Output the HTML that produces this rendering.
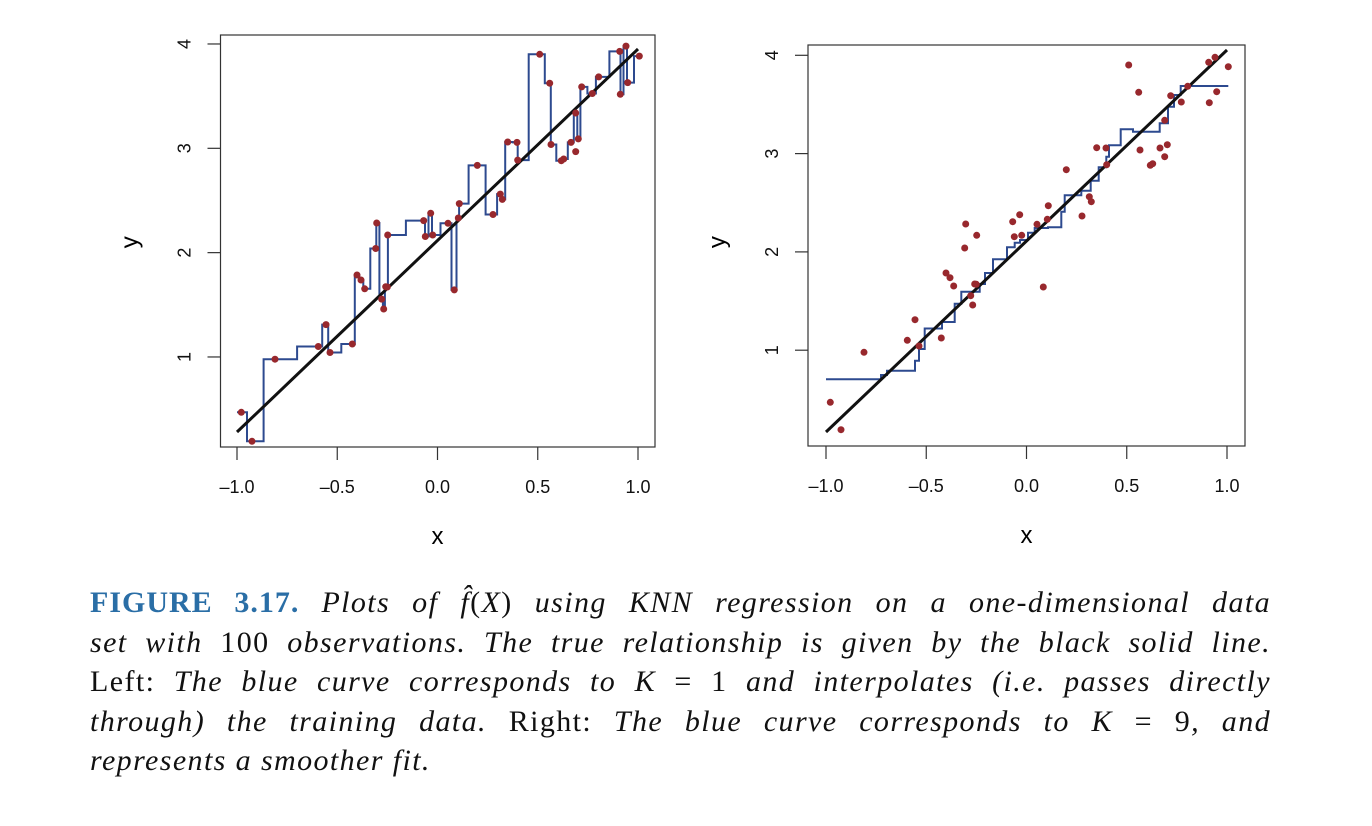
<!DOCTYPE html>
<html><head><meta charset="utf-8"><style>
body{margin:0;background:#fff;width:1372px;height:826px;overflow:hidden;position:relative}
svg{position:absolute;left:0;top:0}
.cap{position:absolute;left:90px;width:1181px;top:583px;font-family:"Liberation Serif",serif;font-size:30px;line-height:39.5px;font-style:italic;color:#111;letter-spacing:1.4px}
.cap div{text-align:justify;text-align-last:justify;white-space:nowrap}
.cap div.last{text-align-last:left}
.cap b{font-style:normal;color:#2a6ea6;letter-spacing:1px}
.cap .r{font-style:normal}
</style></head><body>
<svg id="s" width="1372" height="826" font-family="Liberation Sans, sans-serif"></svg>
<div class="cap">
<div><b>FIGURE 3.17.</b> Plots of f&#770;<span class="r">(</span>X<span class="r">)</span> using KNN regression on a one-dimensional data</div>
<div>set with <span class="r">100</span> observations. The true relationship is given by the black solid line.</div>
<div><span class="r">Left:</span> The blue curve corresponds to K <span class="r">= 1</span> and interpolates (i.e. passes directly</div>
<div>through) the training data. <span class="r">Right:</span> The blue curve corresponds to K <span class="r">= 9</span>, and</div>
<div class="last">represents a smoother fit.</div>
</div>
<script>
var P=[[1128.7,65],[1138.7,92.3],[1208.7,62.3],[1215,57.3],[1228.3,66.7],[1216.7,91.7],[1209.3,102.7],[1187.7,86.3],[1170.7,95.7],[1181.3,102],[1164.7,120.3],[1140,150],[1160,148],[1167.3,144.7],[1164.7,156.7],[1150.3,165.3],[1152.7,163.7],[1096.7,147.7],[1106,148],[1106.7,164.7],[1066.3,169.7],[1089.3,196.7],[1091.3,201.7],[1082,216],[1048.3,205.7],[1047.3,219.3],[1037,224.3],[1019.7,214.7],[1012.7,221.7],[1014.3,236.7],[1021.7,235.3],[965.7,224],[976.7,235.3],[964.7,248],[946,273],[950,277.7],[953.7,286],[974.7,284],[976.3,284.3],[970.7,295.7],[972.7,305],[1043.3,287],[915,319.7],[907.3,340.3],[919,346],[941.3,338],[864,352.3],[830.3,402.3],[841,429.7]];
var D=P.map(function(p){return [(p[0]-1026.5)/200.5,(448.5-p[1])/98.3]}).sort(function(a,b){return a[0]-b[0]});
var K9=[[826,379.3],[881,375],[887,370.7],[915,360.7],[919,349],[924.7,328.5],[942,322],[954.7,303.7],[961.3,291.7],[979.7,284],[985,273],[993,259.3],[1007,247.3],[1014.7,242.7],[1020,240],[1028,232.7],[1034.7,228],[1048,227.3],[1061.3,211.7],[1064.7,195.3],[1081.3,190.7],[1090.7,180.7],[1098.7,167.3],[1106.3,156.7],[1109,145.3],[1120.7,129.3],[1133,131.7],[1159.7,123.3],[1168,106.7],[1174,95],[1180.7,86],[1228.3,86]];
var s='';
function plot(L,R,T,B,xo,ys,yo,k,l0,l1,clip){
 var X=function(x){return xo+200.5*x},Y=function(y){return yo-ys*y};
 s+='<clipPath id="'+clip+'"><rect x="'+L+'" y="'+T+'" width="'+(R-L)+'" height="'+(B-T)+'"/></clipPath>';
 s+='<rect x="'+L+'" y="'+T+'" width="'+(R-L)+'" height="'+(B-T)+'" fill="none" stroke="#333" stroke-width="1.2"/>';
 [-1,-0.5,0,0.5,1].forEach(function(v){var x=X(v);s+='<line x1="'+x+'" x2="'+x+'" y1="'+B+'" y2="'+(B+13)+'" stroke="#333" stroke-width="1.2"/><text x="'+x+'" y="'+(B+46)+'" font-size="18" text-anchor="middle" fill="#111">'+(v<0?'\u2013':'')+Math.abs(v).toFixed(1)+'</text>'});
 [1,2,3,4].forEach(function(v){var y=Y(v);s+='<line x1="'+(L-13)+'" x2="'+L+'" y1="'+y+'" y2="'+y+'" stroke="#333" stroke-width="1.2"/><text transform="translate('+(L-30)+','+y+') rotate(-90)" font-size="18" text-anchor="middle" fill="#111">'+v+'</text>'});
 s+='<text x="'+X(0)+'" y="'+(B+97)+'" font-size="24" text-anchor="middle">x</text>';
 s+='<text transform="translate('+(L-83)+','+Y(2.1)+') rotate(-90)" font-size="24" text-anchor="middle">y</text>';
 var pts=[];
 if(k==1){
 for(var i=0;i<=800;i++){var x=-1+2*i/800;
  var nn=D.map(function(d){return [Math.abs(d[0]-x),d[1]]}).sort(function(a,b){return a[0]-b[0]});
  var m=nn[0][1];
  if(pts.length){pts.push([X(x),Y(pts[pts.length-1].v)]);}
  var q=[X(x),Y(m)];q.v=m;pts.push(q);}
 } else {
  for(var j=0;j<K9.length;j++){ if(j>0) pts.push([K9[j][0],K9[j-1][1]]); pts.push(K9[j]); }
 }
 s+='<g clip-path="url(#'+clip+')"><polyline fill="none" stroke="#2d4a8f" stroke-width="2" points="'+pts.map(function(p){return p[0].toFixed(1)+','+p[1].toFixed(1)}).join(' ')+'"/></g>';
 s+='<line x1="'+X(-1)+'" y1="'+l0+'" x2="'+X(1)+'" y2="'+l1+'" stroke="#111" stroke-width="3"/>';
 D.forEach(function(d){s+='<circle cx="'+X(d[0]).toFixed(1)+'" cy="'+Y(d[1]).toFixed(1)+'" r="3.5" fill="#98282d"/>'});
}
plot(220.5,655,35,447,437.5,104.33,461.3,1,432,49,'c1');
plot(808,1245,45,446,1026.5,98.3,448.5,9,432,50,'c2');
document.getElementById('s').innerHTML=s;
</script>
</body></html>
